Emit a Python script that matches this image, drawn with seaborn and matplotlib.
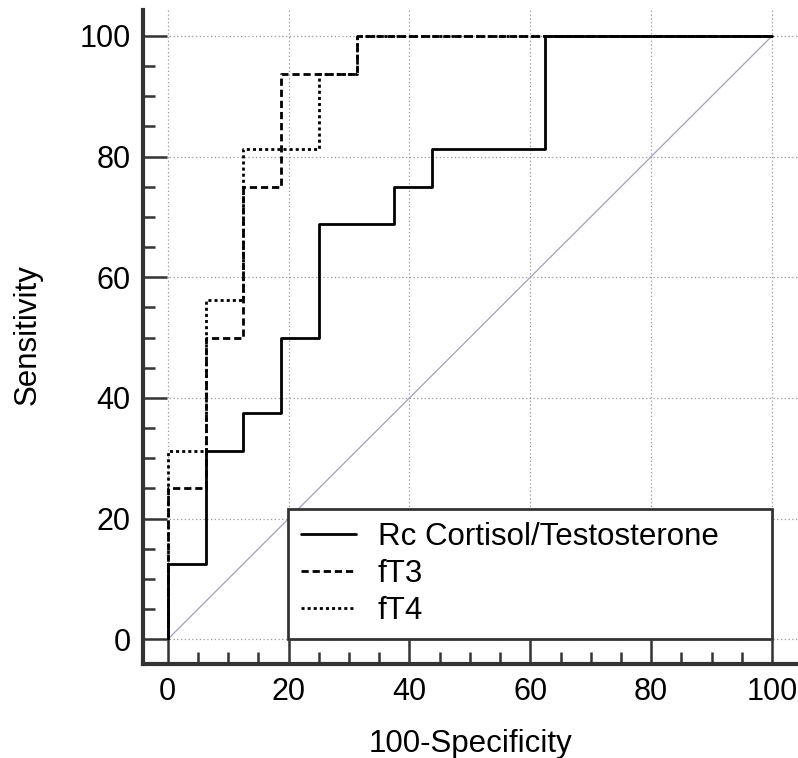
import numpy as np
import pandas as pd
import seaborn as sns
import matplotlib.pyplot as plt
from matplotlib.ticker import MultipleLocator

# ROC corner points (100-Specificity, Sensitivity), steps-post order
rc_fpr = [0, 0, 6.25, 12.5, 18.75, 25, 37.5, 43.75, 62.5, 100]
rc_tpr = [0, 12.5, 31.25, 37.5, 50, 68.75, 75, 81.25, 100, 100]

ft3_fpr = [0, 0, 6.25, 12.5, 18.75, 31.25, 100]
ft3_tpr = [0, 25, 50, 75, 93.75, 100, 100]

ft4_fpr = [0, 0, 6.25, 12.5, 25, 31.25, 100]
ft4_tpr = [0, 31.25, 56.25, 81.25, 93.75, 100, 100]

labels = ['Rc Cortisol/Testosterone', 'fT3', 'fT4']
diag = [0, 100]

sns.set_style('ticks')
plt.rcParams['font.family'] = ['Liberation Sans', 'DejaVu Sans']
plt.rcParams['text.color'] = 'black'
plt.rcParams['axes.labelcolor'] = 'black'
plt.rcParams['xtick.labelcolor'] = 'black'
plt.rcParams['ytick.labelcolor'] = 'black'

fig = plt.figure(figsize=(7.98, 7.58), dpi=100)
ax = fig.add_axes([143 / 798, (758 - 664) / 758, 655 / 798, 654 / 758])

# chance line
sns.lineplot(x=diag, y=diag, color='#a09ccf', linewidth=0.9, ax=ax, zorder=2)

# the three curves
sns.lineplot(x=rc_fpr, y=rc_tpr, sort=False, estimator=None, drawstyle='steps-post',
             color='black', linewidth=2.0, label=labels[0], ax=ax, zorder=4)
sns.lineplot(x=ft3_fpr, y=ft3_tpr, sort=False, estimator=None, drawstyle='steps-post',
             color='black', linewidth=2.0, linestyle=(0, (2.6, 1.4)), label=labels[1], ax=ax, zorder=4)
sns.lineplot(x=ft4_fpr, y=ft4_tpr, sort=False, estimator=None, drawstyle='steps-post',
             color='black', linewidth=2.0, linestyle=(0, (1.1, 1.1)), label=labels[2], ax=ax, zorder=4)

ax.set_xlim(-4.1, 104.3)
ax.set_ylim(-4.1, 104.3)
ax.xaxis.set_major_locator(MultipleLocator(20))
ax.yaxis.set_major_locator(MultipleLocator(20))
ax.xaxis.set_minor_locator(MultipleLocator(5))
ax.yaxis.set_minor_locator(MultipleLocator(5))

ax.grid(True, which='major', linestyle=(0, (1, 2)), color='#999999', linewidth=0.9)
ax.set_axisbelow(True)

for s in ['top', 'right']:
    ax.spines[s].set_visible(False)
for s in ['left', 'bottom']:
    ax.spines[s].set_linewidth(3)
    ax.spines[s].set_color('#333333')

ax.tick_params(which='major', direction='in', length=17, width=1.8, color='#333333',
               labelsize=22, pad=9)
ax.tick_params(which='minor', direction='in', length=8.5, width=1.8, color='#333333')

ax.set_xlabel('100-Specificity', fontsize=22.5)
ax.set_ylabel('Sensitivity', fontsize=22.5)
ax.xaxis.set_label_coords(0.5, -0.1)
ax.yaxis.set_label_coords(-0.153, 0.503)

leg = ax.legend(loc='lower left', bbox_to_anchor=(19.9, 0, 80.1, 21.9),
                bbox_transform=ax.transData, mode='expand', borderaxespad=0,
                fancybox=False, framealpha=1, edgecolor='#333333', fontsize=22.5,
                handlelength=1.75, handletextpad=0.7, labelspacing=0.22,
                borderpad=0.42)
leg.get_frame().set_linewidth(2)
leg.set_zorder(5)

fig.savefig('out.png', dpi=100)
